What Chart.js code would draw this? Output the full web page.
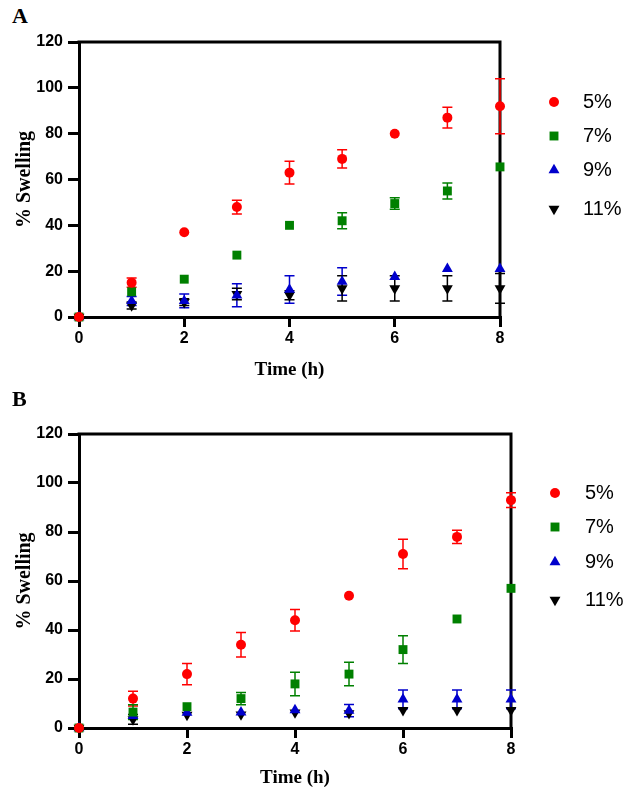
<!DOCTYPE html>
<html>
<head>
<meta charset="utf-8">
<script src="https://cdn.jsdelivr.net/npm/chart.js@4.4.0/dist/chart.umd.min.js"></script>
<style>
  html, body { margin: 0; padding: 0; background: #fff; }
  #wrap { position: relative; width: 630px; height: 802px; }
  .panel { position: absolute; left: 0; width: 630px; }
  .tag { position: absolute; font: bold 22px "Liberation Serif", serif; color: #000; }
</style>
</head>
<body>
<div id="wrap">
  <div class="tag" style="left:12px;top:3px">A</div>
  <div class="panel" style="top:0;height:400px"><canvas id="chart-a"></canvas></div>
  <div class="tag" style="left:12px;top:386px">B</div>
  <div class="panel" style="top:400px;height:402px"><canvas id="chart-b"></canvas></div>
</div>
<script>
// ===== Data =====
const hours  = [0, 1, 2, 3, 4, 5, 6, 7, 8];
const labels = ['5%', '7%', '9%', '11%'];

// Panel A
const a5  = [0, 15, 37, 48, 63, 69, 80, 87, 92];
const a7  = [0, 11, 16.5, 27, 40, 42, 49.5, 55, 65.5];
const a9  = [0, 7, 7, 9.5, 12, 15.5, 17.5, 21, 21];
const a11 = [0, 5, 6.5, 10, 9.5, 12.5, 12.5, 12.5, 12.5];
const a5Err  = [0, 2, 0, 3, 5, 4, 0, 4.5, 12];
const a7Err  = [0, 0, 0, 0, 0, 3.5, 2.5, 3.5, 0];
const a9Err  = [0, 2, 3, 5, 6, 6, 0, 0, 0];
const a11Err = [0, 1.5, 1.5, 2.5, 2, 5.5, 5.5, 5.5, 6.5];

// Panel B
const b5  = [0, 12, 22, 34, 44, 54, 71, 78, 93];
const b7  = [0, 6.5, 8.7, 12, 18, 22, 32, 44.5, 57];
const b9  = [0, 5, 6.3, 6.4, 7.3, 7.1, 11.7, 11.7, 11.7];
const b11 = [0, 3.5, 5.3, 5.5, 6.3, 6, 7.3, 7.3, 7.3];
const b5Err  = [0, 3, 4.3, 5, 4.4, 0, 6, 2.7, 3];
const b7Err  = [0, 3, 0, 2.5, 4.8, 4.8, 5.7, 0, 0];
const b9Err  = [0, 0, 0, 0, 0, 2.5, 3.8, 3.8, 3.8];
const b11Err = [0, 2, 0, 0, 0, 0, 0, 0, 0];

// ===== Styles =====
const styles = [
  { color: '#ff0000', pointStyle: 'circle',   radius: 5, rotation: 0 },
  { color: '#008000', pointStyle: 'rect',     radius: 6.3, rotation: 0 },
  { color: '#0000cc', pointStyle: 'triangle', radius: 6.3, rotation: 0 },
  { color: '#000000', pointStyle: 'triangle', radius: 6.3, rotation: 180 },
];

// ===== Plugins =====
const errorBars = {
  id: 'errorBars',
  beforeDatasetsDraw(chart) {
    const { ctx, scales: { x, y } } = chart;
    ctx.save();
    ctx.lineWidth = 1.5;
    chart.data.datasets.forEach(ds => {
      ctx.strokeStyle = ds.borderColor;
      ds.errors.forEach((e, j) => {
        if (!e) return;
        const p = ds.data[j];
        const px = x.getPixelForValue(p.x);
        const top = y.getPixelForValue(p.y + e);
        const bot = y.getPixelForValue(p.y - e);
        ctx.beginPath();
        ctx.moveTo(px, top); ctx.lineTo(px, bot);
        ctx.moveTo(px - 5, top); ctx.lineTo(px + 5, top);
        ctx.moveTo(px - 5, bot); ctx.lineTo(px + 5, bot);
        ctx.stroke();
      });
    });
    ctx.restore();
  }
};

// top + right edges of the box
const frame = {
  id: 'frame',
  beforeDatasetsDraw(chart) {
    const { ctx, chartArea: a } = chart;
    ctx.save();
    ctx.strokeStyle = '#000';
    ctx.lineWidth = 3;
    ctx.beginPath();
    ctx.moveTo(a.left - 1.5, a.top);
    ctx.lineTo(a.right, a.top);
    ctx.lineTo(a.right, a.bottom + 1.5);
    ctx.stroke();
    ctx.restore();
  }
};

const sideLegend = {
  id: 'sideLegend',
  afterDraw(chart, args, opts) {
    const { ctx } = chart;
    ctx.save();
    ctx.font = '20px "Liberation Sans", Arial, sans-serif';
    ctx.textBaseline = 'middle';
    chart.data.datasets.forEach((ds, i) => {
      const y = opts.ys[i];
      ctx.fillStyle = ds.backgroundColor;
      ctx.strokeStyle = ds.borderColor;
      Chart.helpers.drawPoint(ctx, {
        pointStyle: ds.pointStyle, radius: ds.pointRadius,
        rotation: ds.pointRotation, borderWidth: 0
      }, opts.x, y);
      ctx.fillStyle = '#000';
      ctx.fillText(ds.label, opts.textX, y);
    });
    ctx.restore();
  }
};

// ===== Chart builder =====
function makeChart(id, series, errors, geo) {
  const datasets = series.map((vals, i) => ({
    label: labels[i],
    data: hours.map((h, j) => ({ x: h, y: vals[j] })),
    errors: errors[i],
    backgroundColor: styles[i].color,
    borderColor: styles[i].color,
    pointStyle: styles[i].pointStyle,
    pointRadius: styles[i].radius,
    pointRotation: styles[i].rotation,
    pointBorderWidth: 0,
    showLine: false,
    clip: false,
  }));

  const tickFont = { family: '"Liberation Sans", Arial, sans-serif', size: 16, weight: 'bold' };
  const titleFont = { family: '"Liberation Serif", serif', weight: 'bold' };

  return new Chart(document.getElementById(id), {
    type: 'scatter',
    data: { datasets },
    plugins: [frame, errorBars, sideLegend],
    options: {
      responsive: true,
      maintainAspectRatio: false,
      animation: false,
      events: [],
      layout: { padding: geo.padding },
      plugins: {
        legend: { display: false },
        tooltip: { enabled: false },
        sideLegend: geo.legend,
      },
      scales: {
        x: {
          type: 'linear', min: 0, max: 8,
          afterFit: s => { s.height = 70; },
          ticks: { stepSize: 2, color: '#000', font: tickFont, padding: 2 },
          grid: { drawOnChartArea: false, tickLength: 10, lineWidth: 3, color: '#000' },
          border: { display: true, width: 3, color: '#000' },
          title: { display: true, text: 'Time (h)', color: '#000',
                   font: { ...titleFont, size: 19 }, padding: { top: 0, bottom: geo.titlePad } },
        },
        y: {
          type: 'linear', min: 0, max: 120,
          afterFit: s => { s.width = 79; },
          ticks: { stepSize: 20, color: '#000', font: tickFont, padding: 5 },
          grid: { drawOnChartArea: false, tickLength: 11, lineWidth: 3, color: '#000' },
          border: { display: true, width: 3, color: '#000' },
          title: { display: true, text: '% Swelling', color: '#000',
                   font: { ...titleFont, size: 20 }, padding: { top: 13, bottom: 0 } },
        },
      },
    },
  });
}

// ===== Boot =====
makeChart('chart-a', [a5, a7, a9, a11], [a5Err, a7Err, a9Err, a11Err], {
  padding: { top: 42, right: 130, bottom: 13, left: 0 },
  titlePad: 6,
  legend: { x: 554, textX: 583, ys: [102, 136, 170, 209] },
});

makeChart('chart-b', [b5, b7, b9, b11], [b5Err, b7Err, b9Err, b11Err], {
  padding: { top: 34, right: 119, bottom: 4, left: 0 },
  titlePad: 9,
  legend: { x: 555, textX: 585, ys: [93, 127, 162, 200] },
});
</script>
</body>
</html>
